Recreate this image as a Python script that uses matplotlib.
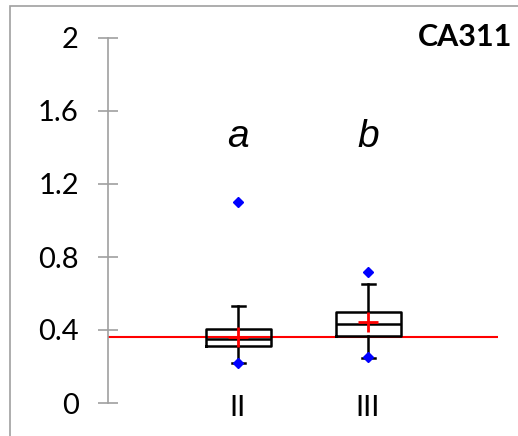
import numpy as np
import matplotlib.pyplot as plt
from matplotlib.patches import Rectangle

# data
groups = ['II', 'III']
letters = ['a', 'b']
q1 = [0.312, 0.369]
med = [0.351, 0.435]
q3 = [0.405, 0.500]
whislo = [0.219, 0.248]
whishi = [0.533, 0.654]
means = [0.362, 0.446]
fliers = [[1.103, 0.219], [0.716, 0.254]]
ref_level = 0.36
title = 'CA311'
yticks = [0, 0.4, 0.8, 1.2, 1.6, 2]
ytick_labels = ['0', '0.4', '0.8', '1.2', '1.6', '2']

fig = plt.figure(figsize=(5.18, 4.36), dpi=100)
ax = fig.add_axes([108 / 518, 33 / 436, 390 / 518, 365 / 436])

stats = []
for i in range(len(groups)):
    stats.append(dict(q1=q1[i], med=med[i], q3=q3[i], whislo=whislo[i],
                      whishi=whishi[i], mean=means[i], fliers=fliers[i]))

pos = np.arange(1, len(groups) + 1)
ax.bxp(stats, positions=pos, widths=0.5, showmeans=True, showfliers=True,
       boxprops=dict(color='black', linewidth=1.8),
       medianprops=dict(color='black', linewidth=1.8),
       whiskerprops=dict(color='black', linewidth=1.8),
       capprops=dict(color='black', linewidth=1.8),
       capwidths=0.1,
       flierprops=dict(marker='D', markerfacecolor='blue', markeredgecolor='blue',
                       markersize=5),
       meanprops=dict(marker='+', markeredgecolor='red', markersize=15,
                      markeredgewidth=2))

ax.axhline(ref_level, color='red', linewidth=1.5, zorder=1)

for x, s in zip(pos, letters):
    ax.text(x, 1.46, s, ha='center', va='center', fontsize=28,
            style='italic', family='Liberation Sans')

ax.set_xlim(0, 3)
ax.set_ylim(0, 2)
ax.set_yticks(yticks)
ax.set_yticklabels(ytick_labels, family='Lato', fontsize=21)
ax.set_xticks(pos)
ax.set_xticklabels(groups, family='Lato', fontsize=21)

for s in ['top', 'right', 'bottom']:
    ax.spines[s].set_visible(False)
ax.spines['left'].set_color('#a0a0a0')
ax.spines['left'].set_linewidth(1.2)
ax.tick_params(axis='y', direction='inout', length=14, width=1.2,
               color='#a0a0a0', pad=14)
ax.tick_params(axis='x', length=0, pad=-6)

fig.text(512 / 518, 1 - 37 / 436, title, ha='right', va='center',
         fontsize=22, fontweight='bold', family='Lato')

# outer chart frame (cut off at right and bottom)
fig.add_artist(Rectangle((10 / 518, -0.1), 1.2, 1 - 6 / 436 + 0.1,
                         transform=fig.transFigure, fill=False,
                         edgecolor='#a0a0a0', linewidth=1.2))

fig.savefig('out.png', dpi=100)
